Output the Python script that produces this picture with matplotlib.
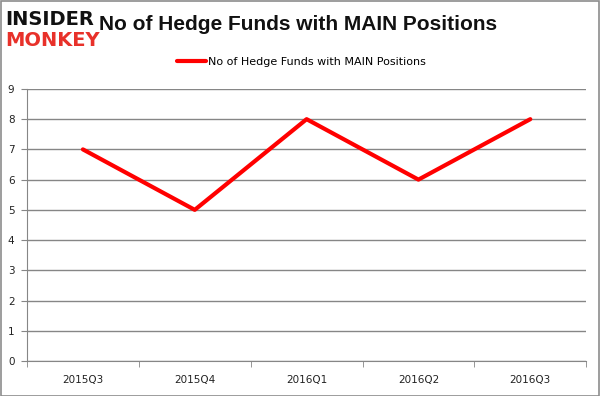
import matplotlib
matplotlib.use("Agg")
import matplotlib.pyplot as plt
from matplotlib.patches import Rectangle

quarters = ["2015Q3", "2015Q4", "2016Q1", "2016Q2", "2016Q3"]
funds = [7, 5, 8, 6, 8]
y_ticks = list(range(0, 10))

GRID = "#868686"

fig = plt.figure(figsize=(6.0, 3.96), dpi=100)
fig.patches.append(Rectangle((0.001, 0.001), 0.997, 0.996, transform=fig.transFigure,
                             fill=False, edgecolor="#8c8c8c", linewidth=1.2))

ax = fig.add_axes([0.045, 0.0884, 0.932, 0.687])
x = list(range(len(quarters)))
ax.plot(x, funds, color="#ff0000", linewidth=3, solid_capstyle="round",
        label="No of Hedge Funds with MAIN Positions")

ax.set_xlim(-0.5, len(quarters) - 0.5)
ax.set_ylim(0, 9)
ax.set_yticks(y_ticks)
ax.yaxis.grid(True, color=GRID, linewidth=1)
ax.set_axisbelow(True)

ax.set_xticks(x)
ax.set_xticklabels(quarters)
ax.set_xticks([i - 0.5 for i in range(len(quarters) + 1)], minor=True)
ax.tick_params(axis="x", which="major", length=0, pad=10, labelsize=7.5, colors="#222222")
ax.tick_params(axis="x", which="minor", length=4, color=GRID, direction="out")
ax.tick_params(axis="y", length=4, color=GRID, labelsize=7.5, labelcolor="#222222", pad=5)

for s in ("top", "right"):
    ax.spines[s].set_visible(False)
ax.spines["left"].set_color(GRID)
ax.spines["bottom"].set_color(GRID)

fig.text(0.497, 0.938, "No of Hedge Funds with MAIN Positions", ha="center", va="center",
         fontsize=15, fontweight="bold", color="#111111", family="Liberation Sans")

leg = ax.legend(loc="center", bbox_to_anchor=(0.502, 1 - 62 / 396), bbox_transform=fig.transFigure,
                frameon=False, fontsize=8, handlelength=2.6, handletextpad=0.2)

# logo
fig.text(0.008, 0.952, "INSIDER", ha="left", va="center", fontsize=14, fontweight="black",
         color="#111111", family="DejaVu Sans", zorder=5)
fig.text(0.008, 0.898, "MONKEY", ha="left", va="center", fontsize=14, fontweight="black",
         color="#e8312a", family="DejaVu Sans", zorder=5)

fig.savefig("out.png", dpi=100)
